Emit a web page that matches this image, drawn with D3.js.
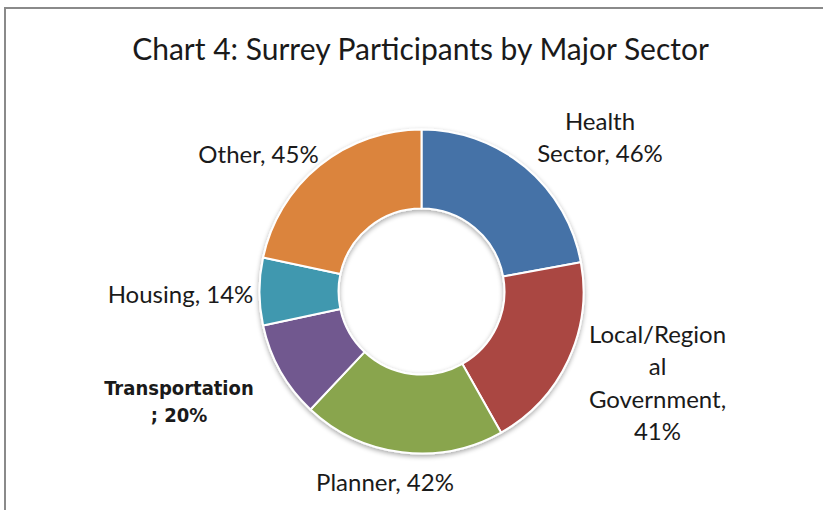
<!DOCTYPE html>
<html><head><meta charset="utf-8">
<script src="https://cdn.jsdelivr.net/npm/d3@7"></script>
<style>
html,body{margin:0;padding:0;background:#fff;}
svg{display:block;}
text{font-family:Lato,"Open Sans",sans-serif;fill:#1a1a1a;}
</style></head>
<body>
<svg id="chart" width="823" height="510"></svg>
<script>
const title = "Chart 4: Surrey Participants by Major Sector";
const categories = ["Health Sector","Local/Regional Government","Planner","Transportation","Housing","Other"];
const values = [46,41,42,20,14,45];
const colors = ["#4572A7","#AA4643","#89A54E","#71588F","#4198AF","#DB843D"];
const labelLines = [
  ["Health","Sector, 46%"],
  ["Local/Region","al","Government,","41%"],
  ["Planner, 42%"],
  ["Transportation","; 20%"],
  ["Housing, 14%"],
  ["Other, 45%"]
];

const svg = d3.select("#chart");
const W = 823, H = 510;
const cx = 421.5, cy = 291.5, rOuter = 162, rInner = 83;

// border
svg.append("path").attr("d", `M5,${H+5} L5,8 L${W+5},8`).attr("fill","none")
  .attr("stroke","#8a8a8a").attr("stroke-width",2);

svg.append("text").attr("x",420.5).attr("y",60).attr("text-anchor","middle")
  .style("font-size","30px").text(title);

const defs = svg.append("defs");
const f = defs.append("filter").attr("id","sh").attr("x","-20%").attr("y","-20%").attr("width","140%").attr("height","140%");
f.append("feGaussianBlur").attr("in","SourceAlpha").attr("stdDeviation",2.5);
f.append("feOffset").attr("dx",0).attr("dy",2).attr("result","b");
f.append("feComponentTransfer").append("feFuncA").attr("type","linear").attr("slope",0.35);
const m = f.append("feMerge"); m.append("feMergeNode"); m.append("feMergeNode").attr("in","SourceGraphic");

const pie = d3.pie().sort(null).value(d=>d)(values);
const arc = d3.arc().innerRadius(rInner).outerRadius(rOuter);
const g = svg.append("g").attr("transform",`translate(${cx},${cy})`).attr("filter","url(#sh)");
g.selectAll("path").data(pie).join("path")
  .attr("d",arc).attr("fill",(d,i)=>colors[i])
  .attr("stroke","#fff").attr("stroke-width",2).attr("stroke-linejoin","round");

// label anchors: center x, first baseline, line spacing
const labelPos = [
  {x:600,y:130,dy:32,size:24},
  {x:657.5,y:343,dy:32.4,size:24},
  {x:385,y:491,dy:32,size:24},
  {x:179,y:395,dy:27,size:20,bold:true},
  {x:180.5,y:303,dy:32,size:24},
  {x:258.5,y:163,dy:32,size:24}
];
labelLines.forEach((lines,i)=>{
  const p = labelPos[i];
  const t = svg.append("text").attr("text-anchor","middle")
    .style("font-size",p.size+"px");
  if(p.bold) t.style("font-weight","bold").style("font-family","'DejaVu Sans Condensed','DejaVu Sans',sans-serif");
  lines.forEach((l,j)=>t.append("tspan").attr("x",p.x).attr("y",p.y+j*p.dy).text(l));
});
</script>
</body></html>
